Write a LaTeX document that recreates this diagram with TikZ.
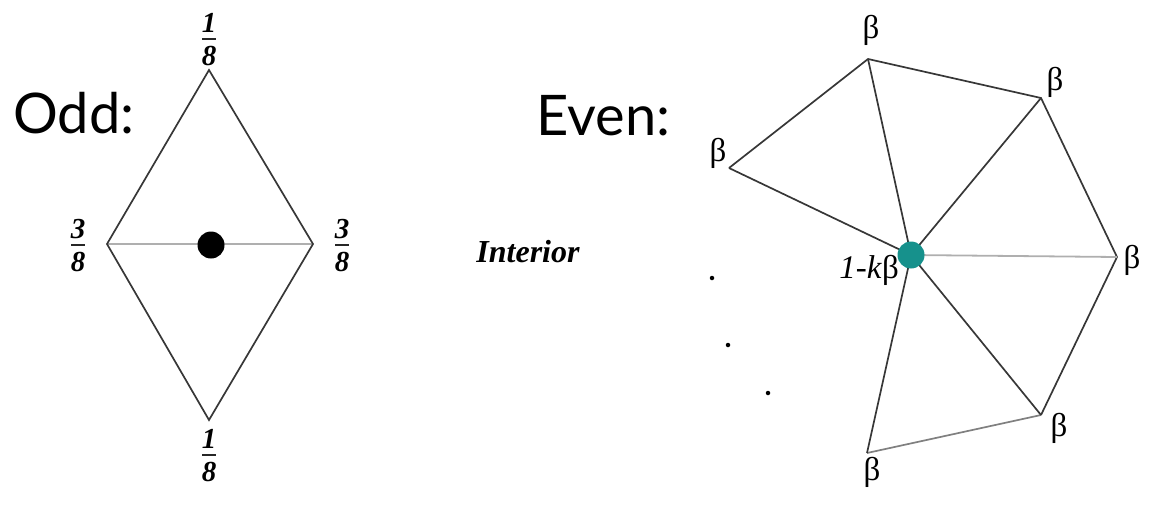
\documentclass[tikz,border=0pt]{standalone}
\usepackage{fontspec}
\setmainfont{Liberation Serif}
\newfontfamily\headfont{Lato}
\definecolor{tealdot}{RGB}{22,145,140}
\definecolor{edgec}{RGB}{55,55,55}
\definecolor{lightc}{RGB}{175,175,175}
\tikzset{
  edge/.style={draw=edgec, line width=1.7pt},
  lightedge/.style={draw=lightc, line width=1.8pt},
  head/.style={font=\headfont\fontsize{56}{60}\selectfont, inner sep=0pt},
  frac/.style={font=\bfseries\itshape\fontsize{29}{31}\selectfont, inner sep=0pt},
  fracbar/.style={draw=black!85, line width=2.4pt},
  betalbl/.style={font=\fontsize{33}{35}\selectfont, inner sep=0pt},
  dotsm/.style={circle, fill=black, inner sep=0pt, minimum size=4.5pt},
}
% fraction: name, x, y of bar, numerator, denominator
\newcommand{\fracnode}[5]{%
  \node[frac] (#1n) at (#2,#3-16) {#4};
  \draw[fracbar] (#2-7,#3) -- (#2+7,#3);
  \node[frac] (#1d) at (#2,#3+17) {#5};
}
\begin{document}
\begin{tikzpicture}[x=1pt,y=-1pt]
\useasboundingbox (0,0) rectangle (1158,512);
% ---------- Odd ----------
\node[head, anchor=base west] (odd) at (13,133) {Odd:};
\coordinate (ot) at (209,70);
\coordinate (ol) at (107,244);
\coordinate (or) at (313,244);
\coordinate (ob) at (209,420);
\draw[lightedge] (ol) -- (or);
\draw[edge, line join=miter] (ot) -- (ol) -- (ob) -- (or) -- cycle;
\node[circle, fill=black, minimum size=27pt, inner sep=0pt] (odot) at (211,245) {};
\fracnode{ftop}{209}{39}{1}{8}
\fracnode{fleft}{78}{245}{3}{8}
\fracnode{fright}{342}{245}{3}{8}
\fracnode{fbot}{209}{455}{1}{8}
% ---------- Even ----------
\node[head, anchor=base west] (even) at (536,135) {Even:};
\node[font=\itshape\bfseries\fontsize{32}{34}\selectfont, inner sep=0pt] (interior) at (528,252) {Interior};
\coordinate (c) at (911,255);
\coordinate (vt) at (868,59);
\coordinate (vur) at (1041,98);
\coordinate (vr) at (1117,257);
\coordinate (vlr) at (1041,415);
\coordinate (vb) at (867,453);
\coordinate (vl) at (729,168);
\draw[edge] (vl) -- (vt) -- (vur) -- (vr) -- (vlr);
\draw[edge, draw=gray] (vlr) -- (vb);
\draw[edge] (c) -- (vl);
\draw[edge] (c) -- (vt);
\draw[edge] (c) -- (vur);
\draw[lightedge] (c) -- (vr);
\draw[edge] (c) -- (vlr);
\draw[edge] (c) -- (vb);
\node[circle, fill=tealdot, minimum size=27pt, inner sep=0pt] (cdot) at (c) {};
\node[betalbl] (bt) at (871,30) {β};
\node[betalbl] (bur) at (1055,82) {β};
\node[betalbl] (bl) at (718,153) {β};
\node[betalbl] (br) at (1132,260) {β};
\node[betalbl] (blr) at (1059,428) {β};
\node[betalbl] (bb) at (872,472) {β};
\node[betalbl, anchor=east] (bc) at (899,270) {\textit{1-k}β};
\node[dotsm] (d1) at (712,278) {};
\node[dotsm] (d2) at (728,345) {};
\node[dotsm] (d3) at (768,393) {};
\end{tikzpicture}
\end{document}
